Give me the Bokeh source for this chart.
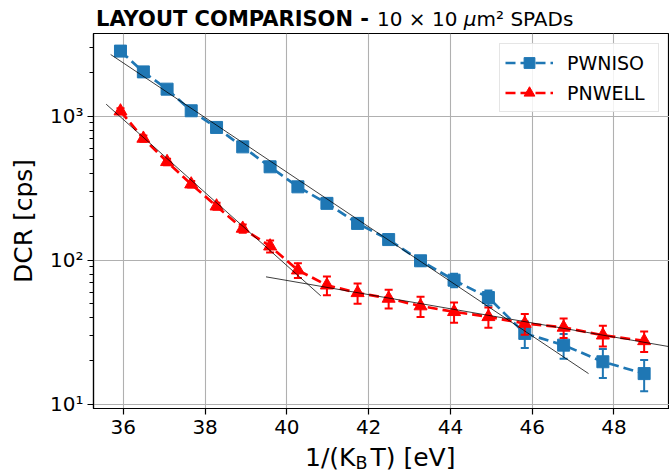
import math
from bokeh.plotting import figure
from bokeh.layouts import column
from bokeh.models import (ColumnDataSource, FixedTicker, Legend, LegendItem,
                          CustomJSTickFormatter, Div)
from bokeh.embed import file_html
from bokeh.resources import INLINE

# ---------------- data ----------------
inv_kT = [35.93, 36.49, 37.07, 37.66, 38.28, 38.92, 39.59, 40.27, 40.98, 41.73,
          42.49, 43.27, 44.09, 44.93, 45.82, 46.77, 47.73, 48.74]

dcr_pwniso = [2830, 2030, 1540, 1090, 835, 612, 445, 323, 248, 180,
              139, 99, 72.6, 55, 31, 25.7, 19.7, 16.3]
err_pwniso = [110, 80, 60, 45, 35, 25, 20, 16, 13, 10,
              9, 8, 7.8, 6.6, 6.5, 5, 4.5, 4]

dcr_pnwell = [1083, 700, 482, 337, 237, 166, 125, 85.2, 67, 59.3,
              54.2, 48, 43.8, 40.4, 36.3, 34.1, 30.1, 27.5]
err_pnwell = [50, 35, 25, 18, 13, 11, 12, 10, 10, 9.5,
              8, 7.7, 7, 6.5, 6, 5.3, 5, 4.5]

# thin black fit lines (start / end points)
fit_x0 = [35.69, 35.58, 39.49]
fit_x1 = [47.38, 40.83, 49.60]
fit_y0 = [2680, 1211, 76.6]
fit_y1 = [16.3, 56.5, 24.4]

x_ticks = [36, 38, 40, 42, 44, 46, 48]
y_ticks = [10, 100, 1000]
y_minor = [20, 30, 40, 50, 60, 70, 80, 90,
           200, 300, 400, 500, 600, 700, 800, 900,
           2000, 3000]

series_names = ["PWNISO", "PNWELL"]
title_bold = "LAYOUT COMPARISON -"
title_rest = "10 \u00d7 10 <i>\u03bc</i>m\u00b2 SPADs"
BLUE = "#1f77b4"
RED = "#ff0000"
FONT = "DejaVu Sans"
W = 669

# ---------------- title (mixed weight) ----------------
title_div = Div(
    text=(f'<div style="font-family:\'{FONT}\';font-size:20px;line-height:38px;'
          f'color:black;white-space:nowrap;padding-left:96px;">'
          f'<span style="font-weight:bold;font-size:21px">{title_bold}</span>'
          f'<span style="margin-left:8px">{title_rest}</span></div>'),
    width=W, height=30, margin=0)

# ---------------- figure ----------------
p = figure(width=W, height=415, x_range=(35.27, 49.36), y_range=(9.33, 3750),
           y_axis_type="log", output_backend="svg", toolbar_location=None,
           min_border_left=93, min_border_right=0, min_border_top=3,
           min_border_bottom=37)
p.background_fill_color = "white"
p.border_fill_color = "white"
p.outline_line_color = "black"
p.outline_line_width = 1.2

# grid
for g in (p.xgrid, p.ygrid):
    g.grid_line_color = "#b0b0b0"
    g.grid_line_width = 1.1

# axes
p.xaxis.ticker = FixedTicker(ticks=x_ticks)
p.yaxis.ticker = FixedTicker(ticks=y_ticks, minor_ticks=y_minor)
p.yaxis.formatter = CustomJSTickFormatter(code="""
    const e = Math.round(Math.log10(tick));
    const sup = {'0':'\u2070','1':'\u00b9','2':'\u00b2','3':'\u00b3','4':'\u2074','5':'\u2075'};
    return '10' + String(e).split('').map(c => sup[c]).join('');
""")
for ax in (p.xaxis[0], p.yaxis[0]):
    ax.axis_line_color = "black"
    ax.axis_line_width = 1.2
    ax.major_tick_line_color = "black"
    ax.major_tick_line_width = 1.2
    ax.major_tick_in = 0
    ax.major_tick_out = 6
    ax.major_label_text_font = FONT
    ax.major_label_text_font_size = "20px"
    ax.major_label_text_color = "black"
p.xaxis.minor_tick_line_color = None
p.xaxis.major_label_standoff = 5
p.yaxis.minor_tick_in = 0
p.yaxis.minor_tick_out = 4
p.yaxis.minor_tick_line_color = "black"
p.yaxis.minor_tick_line_width = 1
p.yaxis.major_label_standoff = 4

p.yaxis.axis_label = "DCR [cps]"
p.yaxis.axis_label_text_font = FONT
p.yaxis.axis_label_text_font_size = "25px"
p.yaxis.axis_label_text_font_style = "normal"
p.yaxis.axis_label_text_color = "black"
p.yaxis.axis_label_standoff = 9

# ---------------- series ----------------
legend_items = []
for name, ys, es, color, marker, msize in (
        (series_names[0], dcr_pwniso, err_pwniso, BLUE, "square", 12),
        (series_names[1], dcr_pnwell, err_pnwell, RED, "triangle", 13)):
    upper = [y + e for y, e in zip(ys, es)]
    lower = [y - e for y, e in zip(ys, es)]
    src = ColumnDataSource(dict(x=inv_kT, y=ys, upper=upper, lower=lower))
    p.segment(x0="x", y0="lower", x1="x", y1="upper", source=src,
              line_color=color, line_width=2)
    p.scatter(x="x", y="upper", source=src, marker="dash", size=8,
              line_color=color, line_width=2)
    p.scatter(x="x", y="lower", source=src, marker="dash", size=8,
              line_color=color, line_width=2)
    ln = p.line(x="x", y="y", source=src, line_color=color, line_width=2.7,
                line_dash="10 5")
    mk = p.scatter(x="x", y="y", source=src, marker=marker, size=msize,
                   fill_color=color, line_color=color)
    # legend-only vertical error-bar glyph
    dummy = p.scatter(x=[], y=[], marker="dash", angle=math.pi / 2, size=15,
                      line_color=color, line_width=2)
    legend_items.append(LegendItem(label=name, renderers=[ln, dummy, mk]))

# fit lines
fit_src = ColumnDataSource(dict(x0=fit_x0, y0=fit_y0, x1=fit_x1, y1=fit_y1))
p.segment(x0="x0", y0="y0", x1="x1", y1="y1", source=fit_src,
          line_color="black", line_width=0.9, line_alpha=0.85)

legend = Legend(items=legend_items, location="top_right")
legend.label_text_font = FONT
legend.label_text_font_size = "19px"
legend.label_text_color = "black"
legend.glyph_width = 48
legend.glyph_height = 27
legend.label_standoff = 14
legend.label_width = 86
legend.padding = 5
legend.spacing = 3
legend.margin = 10
legend.border_line_color = "#cccccc"
legend.border_line_width = 1
legend.background_fill_alpha = 0.85
p.add_layout(legend)

# ---------------- x-axis label with subscript ----------------
xlab_div = Div(
    text=(f'<div style="font-family:\'{FONT}\';font-size:25px;line-height:26px;'
          f'color:black;white-space:nowrap;padding-left:305px;">'
          f'1/(K<span style="font-size:17.5px;line-height:0;position:relative;top:3px;'
          f'margin-right:3px">B</span>T) [eV]</div>'),
    width=W, height=30, margin=0)

layout = column(title_div, p, xlab_div, spacing=0)
open("out.html", "w").write(file_html(layout, INLINE))
